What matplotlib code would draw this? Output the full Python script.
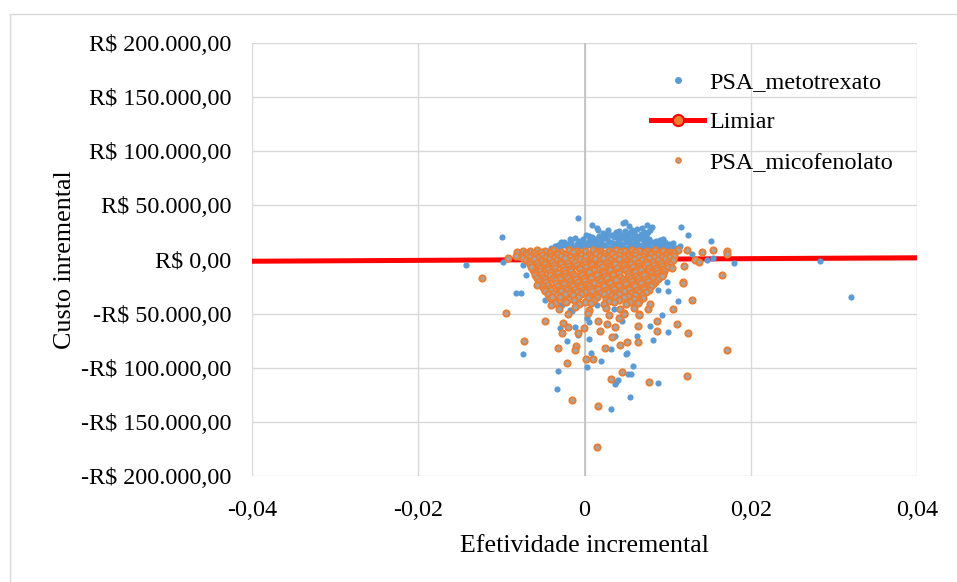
import matplotlib
matplotlib.use("Agg")
import matplotlib.pyplot as plt
from matplotlib.lines import Line2D
from matplotlib.patches import Rectangle

plt.rcParams['font.family'] = ['Liberation Serif', 'DejaVu Serif']

# ---------------- data ----------------
x_ticks = [-0.04, -0.02, 0.0, 0.02, 0.04]
x_tick_labels = ['-0,04', '-0,02', '0', '0,02', '0,04']
y_ticks = [-200000, -150000, -100000, -50000, 0, 50000, 100000, 150000, 200000]
y_tick_labels = ['-R$ 200.000,00', '-R$ 150.000,00', '-R$ 100.000,00', '-R$ 50.000,00',
                 'R$ 0,00', 'R$ 50.000,00', 'R$ 100.000,00', 'R$ 150.000,00', 'R$ 200.000,00']

limiar_x = [-0.05, 0.05]
limiar_y = [-2000, 2000]

metotrexato_x = [
    # outliers / sparse points
    0.0320, 0.0283, -0.0142, -0.0099, 0.0180, 0.0152, 0.0155, 0.0147, -0.0098, -0.0083,
    -0.0076, -0.0070, -0.0008, 0.0009, 0.0046, 0.0075, 0.0116, 0.0124, 0.0170, 0.0049,
    0.0081, 0.0129, 0.0097, 0.0097, 0.0076, 0.0063, 0.0067, 0.0042, 0.0028, 0.0016,
    0.0034, 0.0058, 0.0070, 0.0091, 0.0106,
    -0.0074, -0.0032, -0.0033, 0.0003, 0.0008, 0.0020, 0.0032, 0.0050, 0.0058, 0.0052,
    0.0056, 0.0038, 0.0037, 0.0040, 0.0055, 0.0032, 0.0089, 0.0082, 0.0100, 0.0093,
    0.0079, 0.0063, -0.0021, -0.0029, -0.0011, -0.0008, 0.0003, 0.0005, 0.0045, 0.0051,
    0.0037, 0.0005, -0.0047, -0.0027, -0.0017, 0.0099, 0.0100, 0.0089, 0.0079, 0.0112,
    -0.0080, -0.0074, -0.0049, -0.0044, -0.0028, -0.0032, -0.0015,
    # upper band
    -0.0040, -0.0030, -0.0020, -0.0010, 0.0000, 0.0010, 0.0020, 0.0030, 0.0040, 0.0050,
    0.0060, 0.0070, 0.0080, 0.0090, 0.0100, 0.0110,
    -0.0035, -0.0025, -0.0015, -0.0005, 0.0005, 0.0015, 0.0025, 0.0035, 0.0045, 0.0055,
    0.0065, 0.0075, 0.0085, 0.0095, 0.0105, 0.0115,
    -0.0032, -0.0021, -0.0009, 0.0003, 0.0013, 0.0024, 0.0034, 0.0045, 0.0055, 0.0066,
    0.0076, 0.0087, 0.0102,
    -0.0028, -0.0016, -0.0003, 0.0009, 0.0020, 0.0031, 0.0040, 0.0050, 0.0061, 0.0071,
    0.0081, 0.0092,
    -0.0025, -0.0007, 0.0006, 0.0018, 0.0029, 0.0041, 0.0052, 0.0063, 0.0074, 0.0086,
    -0.0018, -0.0002, 0.0013, 0.0027, 0.0040, 0.0053, 0.0064, 0.0078, 0.0094,
    -0.0012, 0.0009, 0.0022, 0.0036, 0.0048, 0.0059, 0.0071,
    0.0005, 0.0018, 0.0032, 0.0041, 0.0050, 0.0062, 0.0074,
    0.0002, 0.0026, 0.0045, 0.0054, 0.0068,
    0.0022, 0.0038, 0.0052, 0.0060, 0.0072,
    0.0015, 0.0049, 0.0057, 0.0079, 0.0069, 0.0053,
    # core
    -0.0060, -0.0045, -0.0030, -0.0015, 0.0000, 0.0015, 0.0030, 0.0045, 0.0060, 0.0075,
    0.0090, 0.0105, -0.0050, -0.0035, -0.0020, -0.0005, 0.0010, 0.0025, 0.0040, 0.0055,
    0.0070, 0.0085, -0.0025, 0.0015, 0.0035, 0.0060, 0.0070,
]
metotrexato_y = [
    -35000, -1500, -5000, 21000, -3200, 17000, 1400, -500, -2300, -31000,
    -31000, -14000, 38000, 32000, 34000, 32000, 30000, 23000, 7000, 35000,
    30000, 5000, -5000, 16000, 25000, 28000, 22000, 26000, 27000, 27000,
    23000, 20000, 19000, 18000, 15000,
    -87000, -103000, -120000, -99000, -86000, -94000, -83000, -87000, -98000, -106000,
    -106000, -113000, -115000, -111000, -127000, -138000, -114000, -74000, -67000, -51000,
    -61000, -71000, -75000, -63000, -62000, -70000, -54000, -58000, -57000, -86000,
    -71000, -73000, -37000, -42000, -47000, -21000, -29000, -28000, -26000, -38000,
    2300, -5000, -24000, -22000, -34000, -41000, -48000,
    10800, 11600, 10400, 12100, 11200, 10600, 12400, 11000, 11800, 10300,
    12200, 11400, 10700, 12000, 11100, 10500,
    12600, 13100, 12300, 12900, 13400, 12500, 13000, 12200, 12800, 13300,
    12400, 12700, 13200, 12600, 12100, 12900,
    13600, 14500, 13900, 15000, 14200, 13500, 14800, 14100, 15200, 13700,
    14600, 13800, 14300,
    15800, 16200, 15600, 16400, 15900, 16100, 15700, 16300, 15500, 16000,
    16200, 15800,
    16500, 17400, 16800, 17900, 16300, 17600, 17100, 18000, 16600, 17300,
    18800, 19300, 18600, 19100, 18900, 19400, 18700, 19200, 18500,
    19500, 20600, 19800, 21200, 20100, 21700, 20300,
    22100, 21700, 22400, 21900, 22300, 21800, 22200,
    22600, 23400, 22900, 24100, 23300,
    24800, 25300, 24600, 25500, 25100,
    29000, 26500, 27500, 26800, 29000, 31000,
    2000, -3000, 5000, -8000, 3000, -12000, 6000, -6000, 2000, -10000,
    4000, 1000, -16000, -20000, -26000, -18000, -30000, -22000, -34000, -16000,
    -24000, -12000, -38000, -42000, -46000, -40000, -34000,
]

micofenolato_x = [
    # dense core, row by row
    -0.0074, -0.0066, -0.0057, -0.0047, -0.0038, -0.0028, -0.0019, -0.0009, 0.0001, 0.0010,
    0.0019, 0.0029, 0.0038, 0.0047, 0.0057, 0.0066, 0.0075, 0.0085, 0.0094, 0.0103, 0.0112,
    -0.0070, -0.0061, -0.0052, -0.0042, -0.0033, -0.0024, -0.0014, -0.0005, 0.0005, 0.0015,
    0.0024, 0.0033, 0.0043, 0.0052, 0.0061, 0.0071, 0.0080, 0.0089, 0.0099, 0.0108,
    -0.0078, -0.0069, -0.0060, -0.0051, -0.0042, -0.0032, -0.0023, -0.0014, -0.0004, 0.0005,
    0.0014, 0.0024, 0.0033, 0.0042, 0.0052, 0.0061, 0.0070, 0.0080, 0.0089, 0.0098, 0.0108,
    -0.0074, -0.0065, -0.0056, -0.0046, -0.0037, -0.0028, -0.0018, -0.0009, 0.0000, 0.0009,
    0.0019, 0.0028, 0.0037, 0.0047, 0.0056, 0.0066, 0.0075, 0.0084, 0.0093, 0.0102,
    -0.0070, -0.0061, -0.0052, -0.0043, -0.0033, -0.0024, -0.0015, -0.0006, 0.0004, 0.0013,
    0.0022, 0.0032, 0.0041, 0.0050, 0.0060, 0.0069, 0.0078, 0.0088, 0.0097, 0.0106,
    -0.0067, -0.0057, -0.0048, -0.0039, -0.0029, -0.0020, -0.0011, -0.0001, 0.0008, 0.0018,
    0.0027, 0.0036, 0.0046, 0.0055, 0.0064, 0.0074, 0.0083, 0.0092, 0.0101,
    -0.0065, -0.0056, -0.0047, -0.0037, -0.0028, -0.0019, -0.0009, 0.0000, 0.0009, 0.0019,
    0.0028, 0.0037, 0.0047, 0.0056, 0.0065, 0.0075, 0.0084, 0.0093, 0.0103,
    -0.0063, -0.0054, -0.0045, -0.0035, -0.0026, -0.0017, -0.0007, 0.0002, 0.0011, 0.0021,
    0.0030, 0.0039, 0.0049, 0.0058, 0.0067, 0.0077, 0.0086, 0.0095, 0.0101,
    -0.0062, -0.0053, -0.0044, -0.0034, -0.0025, -0.0016, -0.0006, 0.0003, 0.0012, 0.0022,
    0.0031, 0.0040, 0.0050, 0.0059, 0.0068, 0.0078, 0.0087, 0.0096,
    -0.0060, -0.0051, -0.0042, -0.0032, -0.0023, -0.0014, -0.0004, 0.0005, 0.0014, 0.0024,
    0.0033, 0.0042, 0.0052, 0.0061, 0.0070, 0.0080, 0.0089, 0.0094,
    -0.0059, -0.0050, -0.0041, -0.0031, -0.0022, -0.0012, -0.0003, 0.0006, 0.0015, 0.0025,
    0.0034, 0.0043, 0.0053, 0.0062, 0.0071, 0.0081, 0.0090,
    -0.0057, -0.0048, -0.0038, -0.0029, -0.0020, -0.0010, -0.0001, 0.0008, 0.0018, 0.0027,
    0.0036, 0.0046, 0.0055, 0.0064, 0.0074, 0.0083, 0.0089,
    -0.0055, -0.0046, -0.0036, -0.0027, -0.0018, -0.0008, 0.0001, 0.0010, 0.0020, 0.0029,
    0.0038, 0.0048, 0.0057, 0.0066, 0.0076, 0.0085,
    -0.0053, -0.0044, -0.0034, -0.0025, -0.0016, -0.0006, 0.0003, 0.0012, 0.0022, 0.0031,
    0.0040, 0.0050, 0.0059, 0.0068, 0.0078, 0.0083,
    -0.0051, -0.0042, -0.0032, -0.0023, -0.0014, -0.0004, 0.0005, 0.0014, 0.0024, 0.0033,
    0.0042, 0.0052, 0.0061, 0.0070, 0.0080,
    -0.0049, -0.0040, -0.0030, -0.0021, -0.0012, -0.0002, 0.0007, 0.0016, 0.0026, 0.0035,
    0.0044, 0.0054, 0.0063, 0.0072, 0.0078,
    -0.0047, -0.0037, -0.0028, -0.0019, -0.0009, 0.0000, 0.0009, 0.0019, 0.0028, 0.0037,
    0.0047, 0.0056, 0.0065, 0.0074,
    -0.0044, -0.0033, -0.0023, -0.0014, -0.0004, 0.0005, 0.0014, 0.0024, 0.0033, 0.0042,
    0.0052, 0.0061, 0.0069,
    -0.0041, -0.0030, -0.0019, -0.0008, 0.0004, 0.0015, 0.0026, 0.0037, 0.0048, 0.0059, 0.0070,
    -0.0038, -0.0025, -0.0013, 0.0000, 0.0012, 0.0030, 0.0042, 0.0055, 0.0066,
    -0.0036, -0.0022, -0.0007, 0.0008, 0.0023, 0.0036, 0.0050, 0.0064,
    -0.0031, -0.0012, 0.0006, 0.0026, 0.0043, 0.0059, 0.0076,
    -0.0020, 0.0004, 0.0030, 0.0048, 0.0066,
    # sparse / outliers
    -0.0081, -0.0083,
    -0.0123, -0.0094, -0.0073, -0.0047, -0.0032, -0.0021, -0.0015, 0.0015, 0.0016, 0.0032,
    0.0045, 0.0077, 0.0123, 0.0172, 0.0025, 0.0010, 0.0002, -0.0010, -0.0011, 0.0043,
    0.0051, 0.0064, 0.0087, 0.0087, 0.0111, 0.0124, 0.0106, 0.0064, 0.0033, 0.0019,
    0.0016, 0.0027, 0.0037, -0.0001, -0.0008, -0.0027, -0.0020, -0.0026, 0.0041, 0.0048,
    0.0066, 0.0079, 0.0129, 0.0119, 0.0166, 0.0093, 0.0120, 0.0105, 0.0141, 0.0155,
    0.0172, 0.0171, 0.0123, 0.0133, 0.0138, 0.0118, -0.0092, -0.0064, -0.0057, -0.0039,
    -0.0040,
]
micofenolato_y = [
    8200, 7500, 8800, 7900, 8400, 7200, 8900, 8100, 7600, 8700,
    8300, 7800, 8500, 7400, 8900, 8000, 7700, 8600, 8200, 7300, 8400,
    6200, 5600, 6700, 5900, 6400, 5300, 6800, 6000, 5500, 6600,
    6100, 5700, 6500, 5400, 6900, 5800, 6300, 5600, 6200, 5900,
    3500, 4600, 2900, 4100, 3300, 5000, 3800, 2700, 4400, 3600,
    5200, 3100, 4800, 3900, 2800, 4500, 3400, 5100, 3700, 4200, 3000,
    1800, 2500, 1300, 2200, 1600, 2800, 1900, 1200, 2400, 1700,
    2900, 1500, 2300, 1800, 1100, 2600, 1400, 2700, 1900, 2100,
    -500, 800, -1200, 300, -900, 1400, -300, 600, -1500, 200,
    1100, -700, 400, -1100, 900, -400, 1300, -800, 500, -200,
    -2300, -3000, -1900, -2700, -2100, -3300, -2500, -1800, -2900, -2200,
    -3200, -2400, -2800, -1900, -3100, -2300, -2700, -3400, -2000,
    -4500, -5800, -3900, -5200, -4300, -6100, -4800, -3700, -5500, -4100,
    -6000, -4600, -5300, -3800, -5900, -4400, -5100, -6200, -4000,
    -7200, -8100, -6900, -7800, -7300, -8400, -7500, -6800, -8000, -7100,
    -8300, -7600, -7900, -6900, -8200, -7400, -7700, -8500, -7000,
    -9500, -10800, -9100, -11200, -9800, -10400, -9200, -11000, -9600, -10600,
    -9300, -11300, -9900, -10200, -9400, -10900, -9700, -10500,
    -12200, -13100, -11900, -12800, -12300, -13400, -12500, -11800, -13000, -12100,
    -13300, -12600, -12900, -11900, -13200, -12400, -12700, -13000,
    -14500, -15800, -14200, -16100, -14800, -15400, -14100, -16000, -14600, -15600,
    -14300, -15900, -14900, -15200, -14400, -15700, -15000,
    -17200, -18100, -16900, -17800, -17300, -18400, -17500, -16800, -18000, -17100,
    -18300, -17600, -17900, -16900, -18200, -17400, -17700,
    -19600, -20900, -19200, -21300, -19900, -20500, -19400, -21100, -19700, -20700,
    -19300, -21200, -19800, -20300, -19500, -21000,
    -22200, -23100, -21900, -22800, -22300, -23400, -22500, -21800, -23000, -22100,
    -23300, -22600, -22900, -21900, -23200, -22400,
    -24400, -25900, -24100, -26200, -24700, -25500, -24200, -26000, -24800, -25600,
    -24300, -26100, -24900, -25300, -24500,
    -27200, -28100, -26900, -27800, -27300, -28400, -27500, -26800, -28000, -27100,
    -28300, -27600, -27900, -26900, -28200,
    -29500, -30800, -29200, -31100, -29800, -30400, -29300, -31000, -29700, -30600,
    -29400, -31200, -29900, -30300,
    -32200, -33100, -31900, -32800, -32300, -33400, -32500, -31800, -33000, -32100,
    -33300, -32600, -32900,
    -35500, -34200, -36300, -34800, -35900, -34400, -36100, -35000, -34600, -36200, -35300,
    -37800, -38600, -37400, -38900, -37700, -38300, -37600, -38800, -37900,
    -40500, -39200, -41300, -39800, -40900, -39500, -41100, -40200,
    -45800, -44300, -46200, -44900, -45500, -44600, -46000,
    -50500, -49400, -51200, -49800, -50800,
    7000, 3000,
    -17000, -49000, -75000, -57000, -82000, -96000, -130000, -173000, -135000, -110000,
    -104000, -113000, -108000, -84000, -82000, -92000, -92000, -80000, -84000, -79000,
    -76000, -76000, -66000, -57000, -60000, -68000, -46000, -61000, -72000, -66000,
    -57000, -60000, -62000, -63000, -68000, -68000, -62000, -59000, -54000, -50000,
    -51000, -41000, -37000, -21000, -14000, -15000, -6000, -8000, 7000, 9000,
    8000, 5000, 9000, 0, -2000, -22000, 1500, -7000, -24000, -35000,
    -42000,
]

# ---------------- figure ----------------
W, H = 957, 582
fig = plt.figure(figsize=(W / 100, H / 100), dpi=100)
fig.patch.set_facecolor('white')

# outer chart-area border
fig.patches.append(Rectangle((10 / W, -0.1), 1.2, 1 - 14 / H + 0.1, transform=fig.transFigure,
                             fill=False, edgecolor='#D9D9D9', linewidth=1.0))

ax = fig.add_axes([252 / W, 1 - 476 / H, (917 - 252) / W, (476 - 43) / H])
ax.set_xlim(-0.04, 0.04)
ax.set_ylim(-200000, 200000)

ax.set_xticks(x_ticks)
ax.set_xticklabels(x_tick_labels)
ax.set_yticks(y_ticks)
ax.set_yticklabels(y_tick_labels)
ax.tick_params(axis='both', length=0, labelsize=17.4, colors='black')
ax.tick_params(axis='y', pad=15)
ax.tick_params(axis='x', pad=17)

ax.grid(True, color='#D9D9D9', linewidth=1.0, zorder=0)
ax.set_axisbelow(True)
for s in ax.spines.values():
    s.set_visible(False)
ax.axvline(0, color='#BFBFBF', linewidth=1.2, zorder=1)

ax.plot(limiar_x, limiar_y, color='#FF0000', linewidth=3.6, zorder=2, solid_capstyle='butt')
ax.scatter(metotrexato_x, metotrexato_y, s=20, color='#5B9BD5', linewidths=0, zorder=3)
ax.scatter(micofenolato_x, micofenolato_y, s=20, facecolor='#A5A5A5', edgecolor='#ED7D31',
           linewidths=1.4, zorder=4)

ax.set_xlabel('Efetividade incremental', fontsize=18.7, labelpad=10)
ax.set_ylabel('Custo inremental', fontsize=18.7, labelpad=3)

handles = [
    Line2D([], [], marker='o', linestyle='None', markersize=4, markerfacecolor='#5B9BD5',
           markeredgecolor='#5B9BD5'),
    Line2D([], [], color='#FF0000', linewidth=3.6, marker='o', markersize=8,
           markerfacecolor='#ED7D31', markeredgecolor='#FF0000', markeredgewidth=1.5),
    Line2D([], [], marker='o', linestyle='None', markersize=3.6, markerfacecolor='#A5A5A5',
           markeredgecolor='#ED7D31', markeredgewidth=1.2),
]
labels = ['PSA_metotrexato', 'Limiar', 'PSA_micofenolato']
leg = fig.legend(handles, labels, loc='upper left', bbox_to_anchor=(639 / W, 1 - 59 / H),
                 frameon=False, fontsize=17.4, borderpad=0, handlelength=2.2,
                 handletextpad=0.2, labelspacing=0.75)

fig.savefig('out.png', dpi=100, facecolor='white')
